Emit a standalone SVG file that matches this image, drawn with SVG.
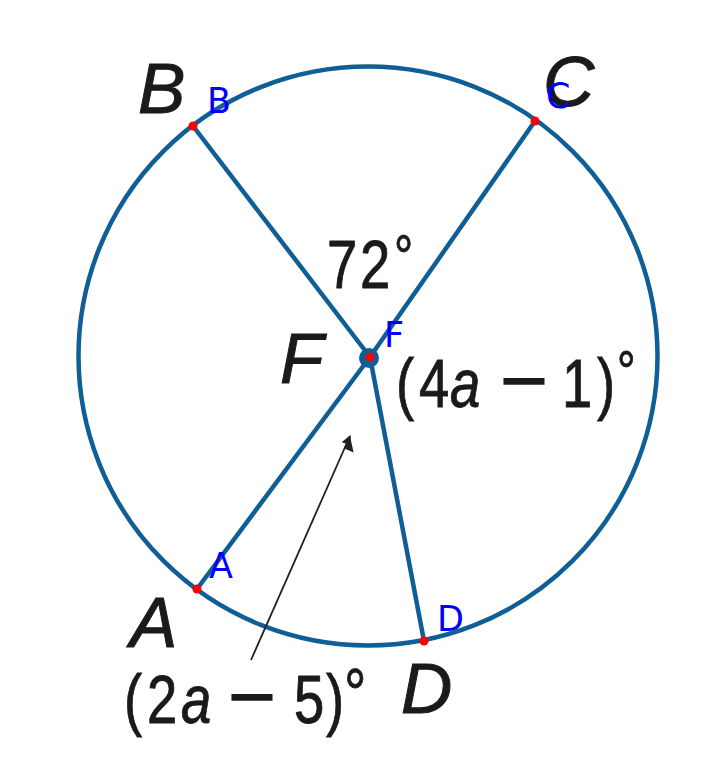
<svg xmlns="http://www.w3.org/2000/svg" width="701" height="770" viewBox="0 0 701 770">
<style>
.seg{stroke:#0f5e95;stroke-width:4.5;fill:none;stroke-linecap:round}
.pt{fill:#ff0000}
.blab{font-family:"DejaVu Sans",sans-serif;font-size:35px;fill:#0000ff}
.big{font-family:"Liberation Sans",Arial,sans-serif;font-size:71px;font-style:italic;fill:#1a1a1a;stroke:#1a1a1a;stroke-width:1}
.num{font-family:"Liberation Sans",Arial,sans-serif;font-size:68px;fill:#1a1a1a;stroke:#1a1a1a;stroke-width:0.9}
.mn{font-family:"DejaVu Sans",sans-serif;font-size:82px;stroke-width:0}
</style>
<defs>
<marker id="ah" viewBox="0 0 10 10" refX="9" refY="5" markerWidth="10" markerHeight="10" markerUnits="userSpaceOnUse" orient="auto">
<path d="M0,0 L10,5 L0,10 z" fill="#222"/>
</marker>
</defs>
<rect width="701" height="770" fill="#ffffff"/>
<g id="circle">
<circle class="seg" cx="368" cy="356" r="289.5"/>
</g>
<g id="connectors">
<line class="seg" x1="193" y1="126" x2="370" y2="357"/>
<line class="seg" x1="535" y1="121" x2="370" y2="357"/>
<line class="seg" x1="197" y1="589" x2="370" y2="357"/>
<line class="seg" x1="424" y1="641" x2="370" y2="357"/>
<line x1="251" y1="660" x2="350" y2="436" stroke="#222" stroke-width="1.8" marker-end="url(#ah)"/>
<path d="M350,436 L353.6,452.6 L343.8,448.2 z" fill="#222"/>
</g>
<g id="F">
<circle cx="369" cy="358" r="10" fill="#0f5e95"/>
<circle class="pt" cx="370" cy="357" r="4.5"/>
<text class="big" x="280" y="383">F</text>
<text class="blab" x="384" y="347">F</text>
</g>
<g id="B">
<circle class="pt" cx="193" cy="126" r="4.5"/>
<text class="big" x="138" y="113">B</text>
<text class="blab" x="207" y="113">B</text>
</g>
<g id="C">
<circle class="pt" cx="535" cy="121" r="4.5"/>
<text class="big" x="543" y="106">C</text>
<text class="blab" x="546" y="108">C</text>
</g>
<g id="A">
<circle class="pt" cx="197" cy="589" r="4.5"/>
<text class="big" x="130" y="647">A</text>
<text class="blab" x="209" y="578">A</text>
</g>
<g id="D">
<circle class="pt" cx="424" cy="641" r="4.5"/>
<text class="big" x="401" y="713">D</text>
<text class="blab" x="437" y="631">D</text>
</g>
<g id="labels">
<text class="num" transform="scale(0.8,1)" y="288"><tspan x="408.75">7</tspan><tspan x="450">2</tspan><tspan x="492.5" dy="-11" font-size="60">°</tspan></text>
<text class="num" transform="scale(0.8,1)" y="407"><tspan x="495">(</tspan><tspan x="523.75">4</tspan><tspan x="562.5" font-style="italic">a</tspan><tspan class="mn" x="620.7">−</tspan><tspan x="702.5">1</tspan><tspan x="746.25">)</tspan><tspan x="771.25" dy="-16" font-size="58">°</tspan></text>
<text class="num" transform="scale(0.8,1)" y="723"><tspan x="155">(</tspan><tspan x="183.75">2</tspan><tspan x="226.25" font-style="italic">a</tspan><tspan class="mn" x="280.7">−</tspan><tspan x="367.5">5</tspan><tspan x="407.5">)</tspan><tspan x="430" dy="-5" font-size="70">°</tspan></text>
</g>
</svg>
